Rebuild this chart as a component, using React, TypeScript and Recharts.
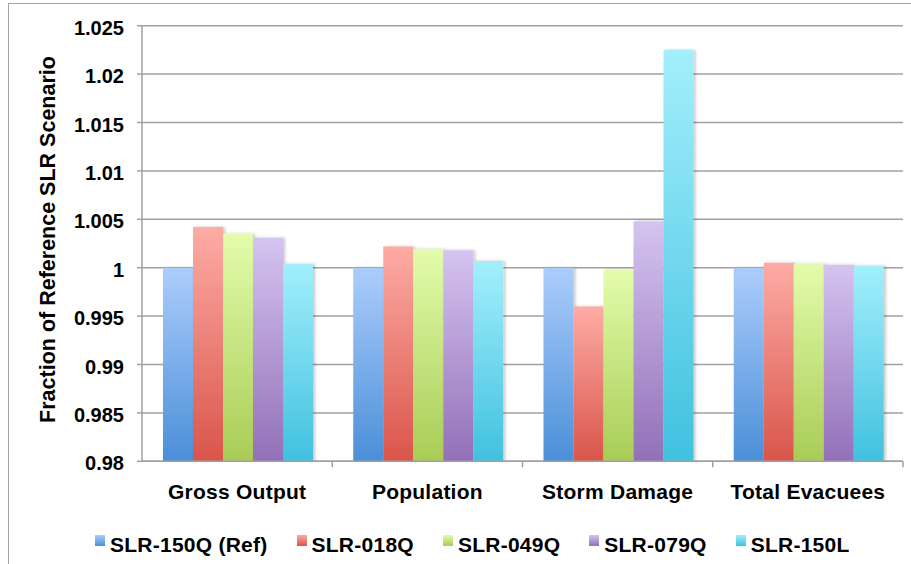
import React from 'react';
import { BarChart, Bar, XAxis, YAxis, CartesianGrid, Legend } from 'recharts';

const categories = ['Gross Output', 'Population', 'Storm Damage', 'Total Evacuees'];
const seriesNames = ['SLR-150Q (Ref)', 'SLR-018Q', 'SLR-049Q', 'SLR-079Q', 'SLR-150L'];
const slr150Q = [1.0, 1.0, 1.0, 1.0];
const slr018Q = [1.0042, 1.0022, 0.996, 1.0005];
const slr049Q = [1.0035, 1.0019, 0.9998, 1.0004];
const slr079Q = [1.0031, 1.0018, 1.0048, 1.0003];
const slr150L = [1.0004, 1.0007, 1.0225, 1.0002];
const yTicks = [0.98, 0.985, 0.99, 0.995, 1.0, 1.005, 1.01, 1.015, 1.02, 1.025];
const yLabel = 'Fraction of Reference SLR Scenario';

const seriesValues = [slr150Q, slr018Q, slr049Q, slr079Q, slr150L];
const keys = ['s0', 's1', 's2', 's3', 's4'];
const gradients = [
  ['#abcdfc', '#4b8fd8'],
  ['#fdaca5', '#d9554a'],
  ['#e3fcab', '#a9cc56'],
  ['#d5c3f0', '#9270b8'],
  ['#a3effc', '#40c1df'],
];

const data = categories.map((c, i) => {
  const row: Record<string, any> = { name: c };
  keys.forEach((k, j) => {
    row[k] = seriesValues[j][i];
  });
  return row;
});

const FONT = '"Liberation Sans", Arial, Helvetica, sans-serif';
const GRID = '#a0a0a0';

const XTick = (props: any) => {
  const { x, y, payload } = props;
  const half = payload && typeof payload.offset === 'number' && payload.offset > 0 ? payload.offset : 95;
  return (
    <g>
      <line x1={x + half} x2={x + half} y1={y - 8} y2={y - 2} stroke={GRID} strokeWidth={1.5} />
      <text x={x} y={y + 30} textAnchor="middle" fontFamily={FONT} fontWeight="bold" fontSize={21} letterSpacing={0.25} fill="#000">
        {payload.value}
      </text>
    </g>
  );
};

const YLabel = (props: any) => {
  const vb = props.viewBox || { x: 0, y: 0, width: 0, height: 0 };
  const cx = vb.x + 55;
  const cy = vb.y + vb.height / 2 - 4;
  return (
    <text
      transform={`translate(${cx},${cy}) rotate(-90)`}
      textAnchor="middle"
      fontFamily={FONT}
      fontWeight="bold"
      fontSize={21.5}
      fill="#000"
    >
      {yLabel}
    </text>
  );
};

const LegendContent = () => (
  <div style={{ display: 'flex', flexDirection: 'row', fontFamily: FONT, fontWeight: 'bold', fontSize: 21, lineHeight: '21px', letterSpacing: '0.25px', color: '#000', whiteSpace: 'nowrap' }}>
    {seriesNames.map((n, i) => (
      <div key={n} style={{ display: 'flex', alignItems: 'flex-start', marginRight: i < seriesNames.length - 1 ? 29 : 0 }}>
        <div
          style={{
            width: 10,
            height: 11,
            marginTop: 1,
            marginRight: 5,
            background: `linear-gradient(to bottom, ${gradients[i][0]}, ${gradients[i][1]})`,
          }}
        />
        <span>{n}</span>
      </div>
    ))}
  </div>
);

const fmt = (v: number) => String(Number(v.toFixed(3)));

export default function App() {
  return (
    <div style={{ position: 'absolute', left: 0, top: 0, width: 911, height: 564, background: '#fff', overflow: 'hidden' }}>
      <div
        style={{
          position: 'absolute',
          left: 8,
          top: 3,
          width: 1000,
          height: 700,
          borderLeft: '1.5px solid #a4a4a4',
          borderTop: '1.5px solid #a4a4a4',
        }}
      />
      <div style={{ position: 'absolute', left: 0, top: 0 }}>
        <BarChart
          width={911}
          height={564}
          data={data}
          margin={{ top: 25.7, right: 8, left: 0, bottom: 12.7 }}
          barCategoryGap={21}
          barGap={0}
        >
          <defs>
            {gradients.map((g, i) => (
              <linearGradient key={i} id={`grad${i}`} x1="0" y1="0" x2="0" y2="1">
                <stop offset="0%" stopColor={g[0]} />
                <stop offset="100%" stopColor={g[1]} />
              </linearGradient>
            ))}
            <filter id="barShadow" x="-20%" y="-5%" width="150%" height="110%">
              <feDropShadow dx="2" dy="0" stdDeviation="1.5" floodColor="#000" floodOpacity="0.22" />
            </filter>
          </defs>
          <CartesianGrid horizontal vertical={false} stroke={GRID} strokeWidth={1.5} />
          <XAxis
            dataKey="name"
            height={60}
            tickSize={6}
            tickLine={false}
            axisLine={{ stroke: GRID, strokeWidth: 1.5 }}
            tick={<XTick />}
            interval={0}
          />
          <YAxis
            width={142}
            domain={[0.98, 1.025]}
            ticks={yTicks}
            type="number"
            allowDataOverflow
            tickFormatter={fmt}
            tickSize={5}
            tickMargin={13}
            axisLine={{ stroke: GRID, strokeWidth: 1.5 }}
            tickLine={{ stroke: GRID, strokeWidth: 1.5 }}
            tick={{ fill: '#000', fontSize: 20, fontWeight: 'bold', fontFamily: FONT, dy: 2 }}
            label={<YLabel />}
          />
          <Legend
            verticalAlign="bottom"
            content={<LegendContent />}
            wrapperStyle={{ position: 'absolute', left: 95, top: 534, bottom: 'auto', width: 800, height: 30 }}
          />
          {keys.map((k, i) => (
            <Bar
              key={k}
              dataKey={k}
              name={seriesNames[i]}
              fill={`url(#grad${i})`}
              isAnimationActive={false}
              style={{ filter: 'url(#barShadow)' }}
            />
          ))}
        </BarChart>
      </div>
    </div>
  );
}
